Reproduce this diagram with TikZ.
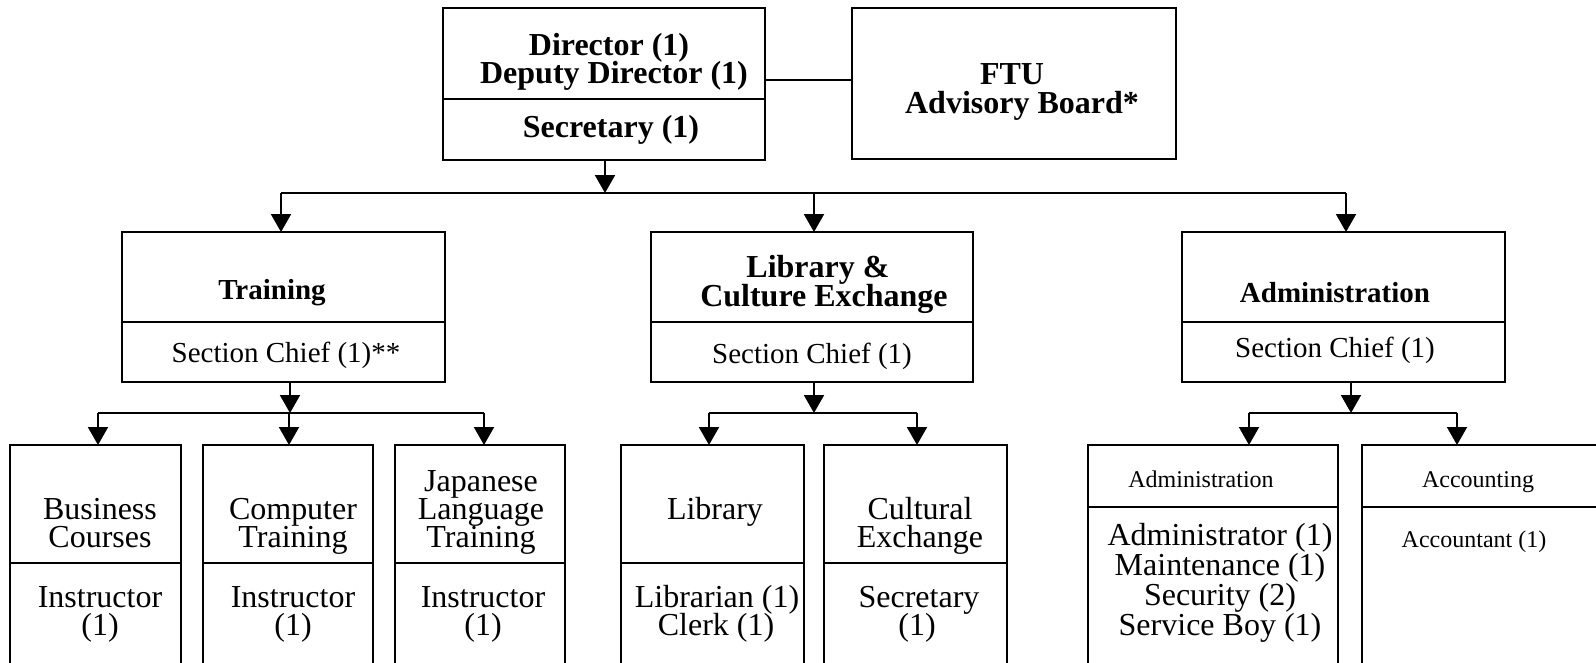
\documentclass[tikz,border=0pt]{standalone}
\usepackage{fontspec}
\setmainfont{Liberation Serif}
\usetikzlibrary{arrows.meta}
\begin{document}
\begin{tikzpicture}[x=1pt,y=-1pt,line width=2pt,
  box/.style={draw,rectangle,inner sep=0pt,outer sep=0pt},
  arr/.style={-{Triangle[width=20pt,length=18pt]}},
  lbl/.style={anchor=base,inner sep=0pt,font=\fontsize{32}{32}\selectfont},
  blbl/.style={anchor=base,inner sep=0pt,font=\fontsize{32}{32}\selectfont\bfseries},
  hlbl/.style={anchor=base,inner sep=0pt,font=\fontsize{29}{29}\selectfont\bfseries},
  mlbl/.style={anchor=base,inner sep=0pt,font=\fontsize{29}{29}\selectfont},
  slbl/.style={anchor=base,inner sep=0pt,font=\fontsize{24}{24}\selectfont},
]
\useasboundingbox (0,0) rectangle (1596,662);
\clip (0,0) rectangle (1596,662);

% top level
\node[box,minimum width=322pt,minimum height=152pt] (dir) at (604,84) {};
\node[box,minimum width=324pt,minimum height=151pt] (ftu) at (1014,83.5) {};
\draw (dir.west |- 0,99) -- (dir.east |- 0,99);
\draw (dir.east |- 0,80) -- (ftu.west |- 0,80);

\node[blbl] (t1) at (609,55) {Director (1)};
\node[blbl] (t2) at (614,83) {Deputy Director (1)};
\node[blbl] (t3) at (611,137) {Secretary (1)};
\node[blbl] (t4) at (1012,84) {FTU};
\node[blbl] (t5) at (1022,113) {Advisory Board*};

% sections
\node[box,minimum width=323pt,minimum height=150pt] (trn) at (283.5,307) {};
\node[box,minimum width=322pt,minimum height=150pt] (lce) at (812,307) {};
\node[box,minimum width=323pt,minimum height=150pt] (adm) at (1343.5,307) {};
\foreach \b in {trn,lce,adm}
  \draw (\b.west |- 0,322) -- (\b.east |- 0,322);

\node[hlbl] (t6) at (272,299) {Training};
\node[mlbl] (t7) at (286,362) {Section Chief (1)**};
\node[blbl] (t8) at (818,277) {Library \&};
\node[blbl] (t9) at (824,306) {Culture Exchange};
\node[mlbl] (t10) at (812,363) {Section Chief (1)};
\node[hlbl] (t11) at (1335,302) {Administration};
\node[mlbl] (t12) at (1335,357) {Section Chief (1)};

% director to sections
\coordinate (bar) at (605,193);
\coordinate (b1) at (281,193);
\coordinate (b2) at (814,193);
\coordinate (b3) at (1346,193);
\draw[arr] (dir.south -| bar) -- (bar);
\draw (b1) -- (b3);
\draw[arr] (b1) -- (b1 |- trn.north);
\draw[arr] (b2) -- (b2 |- lce.north);
\draw[arr] (b3) -- (b3 |- adm.north);

% units
\node[box,minimum width=171pt,minimum height=255pt] (bus) at (95.5,572.5) {};
\node[box,minimum width=170pt,minimum height=255pt] (comp) at (288,572.5) {};
\node[box,minimum width=170pt,minimum height=255pt] (jap) at (480,572.5) {};
\node[box,minimum width=183pt,minimum height=255pt] (lib) at (712.5,572.5) {};
\node[box,minimum width=183pt,minimum height=255pt] (cult) at (915.5,572.5) {};
\node[box,minimum width=250pt,minimum height=255pt] (asub) at (1213,572.5) {};
\node[box,minimum width=338pt,minimum height=255pt] (acc) at (1531,572.5) {};
\foreach \b in {bus,comp,jap,lib,cult}
  \draw (\b.west |- 0,563) -- (\b.east |- 0,563);
\foreach \b in {asub,acc}
  \draw (\b.west |- 0,507) -- (\b.east |- 0,507);

% section to unit connectors
\coordinate (tj) at (290,413);
\coordinate (u1) at (98,413);
\coordinate (u2) at (289,413);
\coordinate (u3) at (484,413);
\draw[arr] (trn.south -| tj) -- (tj);
\draw (u1) -- (u3);
\draw[arr] (u1) -- (u1 |- bus.north);
\draw[arr] (u2) -- (u2 |- comp.north);
\draw[arr] (u3) -- (u3 |- jap.north);

\coordinate (lj) at (814,413);
\coordinate (u4) at (709,413);
\coordinate (u5) at (917,413);
\draw[arr] (lce.south -| lj) -- (lj);
\draw (u4) -- (u5);
\draw[arr] (u4) -- (u4 |- lib.north);
\draw[arr] (u5) -- (u5 |- cult.north);

\coordinate (aj) at (1351,413);
\coordinate (u6) at (1249,413);
\coordinate (u7) at (1457,413);
\draw[arr] (adm.south -| aj) -- (aj);
\draw (u6) -- (u7);
\draw[arr] (u6) -- (u6 |- asub.north);
\draw[arr] (u7) -- (u7 |- acc.north);

% unit labels
\node[lbl] (l1) at (100,519) {Business};
\node[lbl] (l2) at (100,547) {Courses};
\node[lbl] (l3) at (100,607) {Instructor};
\node[lbl] (l4) at (100,635) {(1)};

\node[lbl] (l5) at (293,519) {Computer};
\node[lbl] (l6) at (293,547) {Training};
\node[lbl] (l7) at (293,607) {Instructor};
\node[lbl] (l8) at (293,635) {(1)};

\node[lbl] (l9) at (481,491) {Japanese};
\node[lbl] (l10) at (481,519) {Language};
\node[lbl] (l11) at (481,547) {Training};
\node[lbl] (l12) at (483,607) {Instructor};
\node[lbl] (l13) at (483,635) {(1)};

\node[lbl] (l14) at (715,519) {Library};
\node[lbl] (l15) at (717,607) {Librarian (1)};
\node[lbl] (l16) at (716,635) {Clerk (1)};

\node[lbl] (l17) at (920,519) {Cultural};
\node[lbl] (l18) at (920,547) {Exchange};
\node[lbl] (l19) at (919,607) {Secretary};
\node[lbl] (l20) at (917,635) {(1)};

\node[slbl] (l21) at (1201,487) {Administration};
\node[lbl] (l22) at (1220,545) {Administrator (1)};
\node[lbl] (l23) at (1220,575) {Maintenance (1)};
\node[lbl] (l24) at (1220,605) {Security (2)};
\node[lbl] (l25) at (1220,635) {Service Boy (1)};

\node[slbl] (l26) at (1478,487) {Accounting};
\node[slbl] (l27) at (1474,547) {Accountant (1)};
\end{tikzpicture}
\end{document}
